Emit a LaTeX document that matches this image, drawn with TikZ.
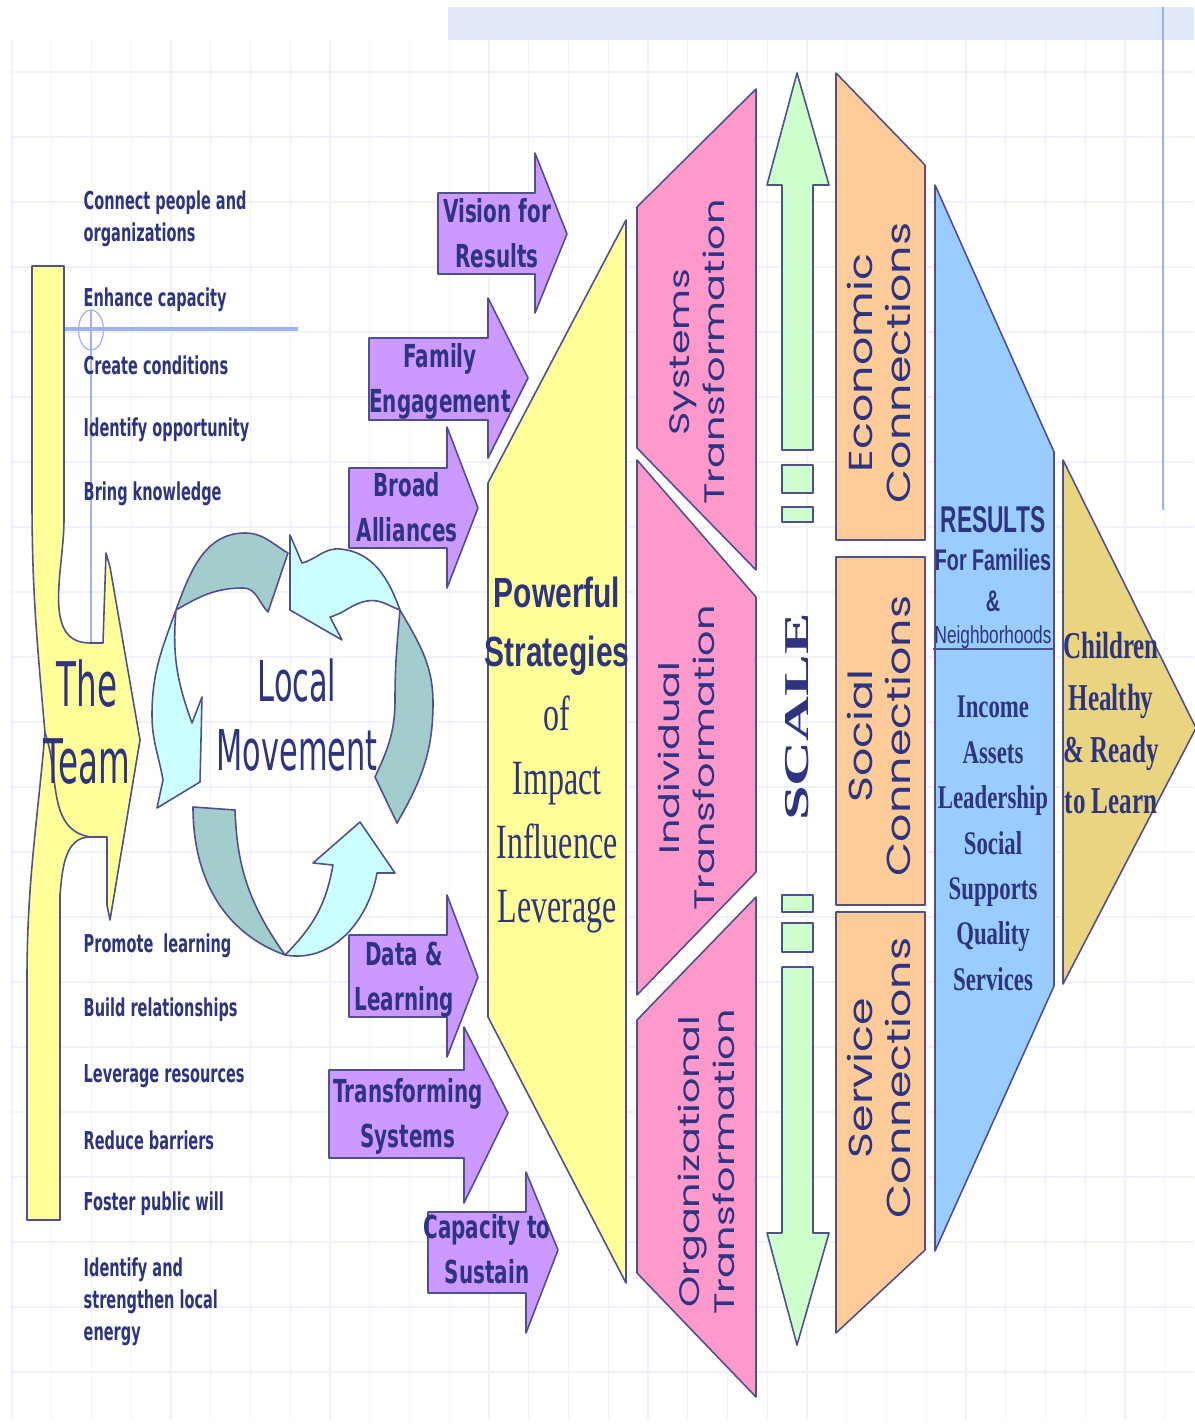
\documentclass[tikz,border=0pt]{standalone}
\usepackage{fontspec}
\usepackage{graphicx}
\setmainfont{Liberation Serif}
\newfontfamily\versans{DejaVu Sans}
\newfontfamily\geosans{Poppins}
\newfontfamily\arsans{Liberation Sans}
\newcommand{\hs}[2]{\scalebox{#1}[1]{#2}}
\newcommand{\vs}[2]{\scalebox{1}[#1]{#2}}
\newcommand{\txtstack}[2][c]{\begin{tabular}{@{}#1@{}}#2\end{tabular}}

\definecolor{inkc}{RGB}{46,52,128}
\definecolor{edgec}{RGB}{80,80,140}
\definecolor{gridc}{RGB}{239,242,253}
\definecolor{bandc}{RGB}{225,232,250}
\definecolor{penc}{RGB}{160,178,242}
\definecolor{yellowc}{RGB}{255,255,153}
\definecolor{purplec}{RGB}{204,153,255}
\definecolor{pinkc}{RGB}{255,153,204}
\definecolor{greenc}{RGB}{204,255,204}
\definecolor{orangec}{RGB}{255,204,153}
\definecolor{bluec}{RGB}{153,204,255}
\definecolor{goldc}{RGB}{233,213,128}
\definecolor{tealc}{RGB}{163,204,204}
\definecolor{cyanc}{RGB}{204,255,255}

\begin{document}
\begin{tikzpicture}[x=0.01cm, y=0.01cm,
	shp/.style={draw=edgec, line width=0.45pt, line join=round},
	gridline/.style={draw=gridc, line width=0.35pt},
	bul/.style={anchor=west, inner sep=0pt, text=inkc, font={\versans\bfseries\fontsize{7}{9.1}\selectfont}},
	arrlab/.style={inner sep=0pt, text=inkc, font={\versans\bfseries\fontsize{9}{12.8}\selectfont}},
	biglab/.style={inner sep=0pt, text=inkc, font={\versans\fontsize{16}{19.9}\selectfont}},
	vlab/.style={inner sep=0pt, text=inkc, rotate=90, font={\geosans\fontsize{11.3}{14}\selectfont}},
	clab/.style={inner sep=0pt, text=inkc, rotate=90, font={\geosans\fontsize{12.6}{14.6}\selectfont}},
	serlab/.style={inner sep=0pt, text=inkc, font={\bfseries\fontsize{9.4}{12.9}\selectfont}}]

	\useasboundingbox (0,0) rectangle (1194,-1425);
	\fill[white] (0,0) rectangle (1194,-1425);

	% faint grid
	\foreach \gx in {12,51.75,...,1194}
	\draw[gridline] (\gx,-40) -- (\gx,-1420);
	\foreach \gy in {72,137,...,1420}
	\draw[gridline] (10,-\gy) -- (1194,-\gy);

	\fill[bandc] (448,-7) rectangle (1194,-40);
	\draw[penc, line width=0.5pt] (1163,-7) -- (1163,-510);

	% pen marks at the left
	\draw[penc, line width=0.9pt] (65,-329) -- (298,-329);
	\draw[penc, line width=0.35pt] (91,-330) ellipse (12.5 and 20);
	\draw[penc, line width=0.35pt] (91,-310) -- (91,-643);

	% the team
	\filldraw[shp, fill=yellowc] (32,-266) -- (64,-266) -- (64,-520) to[out=-90,in=180] (90,-643) -- (103,-643) -- (106,-553) -- (110,-567) -- (140,-740) -- (110,-920) -- (107,-905) -- (107,-837) -- (90,-837) to[out=180,in=85] (60,-895) -- (60,-1220) -- (27,-1220) -- (27,-980) to[out=90,in=-95] (45,-733) to[out=95,in=-90] (32,-500) -- cycle;
	\draw[shp] (45,-733) to[out=-70,in=170] (90,-837);
	\node[inner sep=0pt, text=inkc, font={\versans\fontsize{17.5}{21.9}\selectfont}] (team) at (87,-730) {\hs{0.53}{\txtstack{The\\Team}}};

	% local movement cycle
	\filldraw[shp, fill=tealc] (176,-610) to[out=70,in=180] (245,-533) to[out=0,in=150] (288,-553) -- (268,-612) to[out=135,in=0] (243,-588) to[out=180,in=30] (176,-610) -- cycle;
	\filldraw[shp, fill=cyanc] (176,-610) to[out=250,in=90] (152,-715) to[out=270,in=100] (163,-780) -- (157,-808) -- (200,-782) -- (202,-697) -- (192,-723) to[out=110,in=265] (176,-610) -- cycle;
	\filldraw[shp, fill=tealc] (400,-610) to[out=-60,in=90] (433,-703) to[out=-90,in=60] (397,-823) -- (375,-777) to[out=65,in=-90] (395,-700) to[out=90,in=-95] (400,-610) -- cycle;
	\filldraw[shp, fill=cyanc] (400,-610) to[out=110,in=-5] (340,-549) to[out=175,in=15] (302,-563) -- (290,-535) -- (290,-610) -- (342,-640) -- (330,-617) to[out=15,in=190] (367,-601) to[out=10,in=160] (400,-610) -- cycle;
	\filldraw[shp, fill=tealc] (193,-807) -- (235,-810) to[out=-88,in=125] (285,-955) to[out=160,in=-90] (193,-807) -- cycle;
	\filldraw[shp, fill=cyanc] (285,-955) to[out=45,in=-100] (333,-865) -- (313,-863) -- (360,-822) -- (395,-873) -- (377,-873) to[out=-100,in=-10] (285,-955) -- cycle;
	\node[biglab] (local) at (297,-722) {\hs{0.54}{\txtstack{Local\\Movement}}};

	% what the team does
	\node[bul] (conn) at (83,-219) {\hs{0.59}{\txtstack[l]{Connect people and\\organizations}}};
	\foreach \yy/\txt [count=\i] in {300/Enhance capacity, 365/Create conditions, 430/Identify opportunity, 494/Bring knowledge, 946/Promote\ \ learning, 1010/Build relationships, 1076/Leverage resources, 1140/Reduce barriers, 1204/Foster public will}
	\node[bul] (act\i) at (83,-\yy) {\hs{0.59}{\txt}};
	\node[bul] (ident) at (83,-1302) {\hs{0.59}{\txtstack[l]{Identify and\\strengthen local\\energy}}};

	% purple arrows
	\foreach \xa/\xb/\ya/\yb/\hu/\hd/\tx/\ty in {438/535/193/274/153/313/567/234, 369/488/338/420/298/458/528/378, 349/447/468/548/427/588/478/508, 349/447/935/1017/895/1057/478/977, 329/464/1070/1158/1027/1203/508/1113, 428/526/1212/1293/1172/1333/558/1250}
	\filldraw[shp, fill=purplec] (\xa,-\ya) -- (\xb,-\ya) -- (\xb,-\hu) -- (\tx,-\ty) -- (\xb,-\hd) -- (\xb,-\yb) -- (\xa,-\yb) -- cycle;
	\node[arrlab] (vision) at (497,-236) {\hs{0.63}{\txtstack{Vision for\\Results}}};
	\node[arrlab] (family) at (440,-381) {\hs{0.63}{\txtstack{Family\\Engagement}}};
	\node[arrlab] (broad) at (407,-510) {\hs{0.63}{\txtstack{Broad\\Alliances}}};
	\node[arrlab] (data) at (404,-979) {\hs{0.63}{\txtstack{Data \&\\Learning}}};
	\node[arrlab] (transf) at (408,-1116) {\hs{0.63}{\txtstack{Transforming\\Systems}}};
	\node[arrlab] (capac) at (487,-1252) {\hs{0.63}{\txtstack{Capacity to\\Sustain}}};

	% strategies
	\filldraw[shp, fill=yellowc] (626,-220) -- (626,-1283) -- (488,-1017) -- (488,-483) -- cycle;
	\node[inner sep=0pt, text=inkc, font={\arsans\bfseries\fontsize{12}{17}\selectfont}] (power) at (557,-625) {\hs{0.71}{\txtstack{Powerful\\Strategies}}};
	\node[inner sep=0pt, text=inkc, font={\fontsize{14}{18.2}\selectfont}] (impact) at (557,-814) {\hs{0.65}{\txtstack{of\\Impact\\Influence\\Leverage}}};

	% transformations
	\filldraw[shp, fill=pinkc] (637,-207) -- (756,-89) -- (756,-570) -- (637,-448) -- cycle;
	\filldraw[shp, fill=pinkc] (637,-460) -- (756,-597) -- (756,-872) -- (637,-995) -- cycle;
	\filldraw[shp, fill=pinkc] (637,-1020) -- (756,-897) -- (756,-1397) -- (637,-1273) -- cycle;
	\node[vlab] (systr) at (700,-352) {\vs{0.71}{\txtstack{Systems\\Transformation}}};
	\node[vlab] (indtr) at (690,-758) {\vs{0.71}{\txtstack{Individual\\Transformation}}};
	\node[vlab] (orgtr) at (710,-1162) {\vs{0.71}{\txtstack{Organizational\\Transformation}}};

	% scale arrows
	\filldraw[shp, fill=greenc] (797,-73) -- (829,-185) -- (813,-185) -- (813,-450) -- (782,-450) -- (782,-185) -- (767,-185) -- cycle;
	\filldraw[shp, fill=greenc] (782,-465) rectangle (813,-493);
	\filldraw[shp, fill=greenc] (782,-507) rectangle (813,-522);
	\filldraw[shp, fill=greenc] (782,-895) rectangle (813,-912);
	\filldraw[shp, fill=greenc] (782,-923) rectangle (813,-952);
	\filldraw[shp, fill=greenc] (782,-967) -- (813,-967) -- (813,-1233) -- (829,-1233) -- (797,-1345) -- (767,-1233) -- (782,-1233) -- cycle;
	\node[inner sep=0pt, text=inkc, rotate=90, font={\bfseries\fontsize{17.7}{20}\selectfont}] (scale) at (797,-717) {\vs{0.56}{SCALE}};

	% connections
	\filldraw[shp, fill=orangec] (836,-73) -- (925,-165) -- (925,-540) -- (836,-540) -- cycle;
	\filldraw[shp, fill=orangec] (836,-557) rectangle (925,-905);
	\filldraw[shp, fill=orangec] (836,-912) -- (925,-912) -- (925,-1250) -- (836,-1333) -- cycle;
	\node[clab] (econ) at (884,-363) {\vs{0.75}{\txtstack{Economic\\Connections}}};
	\node[clab] (soc) at (884,-736) {\vs{0.75}{\txtstack{Social\\Connections}}};
	\node[clab] (serv) at (884,-1078) {\vs{0.75}{\txtstack{Service\\Connections}}};

	% results
	\filldraw[shp, fill=bluec] (935,-185) -- (1054,-452) -- (1054,-986) -- (935,-1251) -- cycle;
	\node[inner sep=0pt, text=inkc, font={\arsans\bfseries\fontsize{10.6}{12}\selectfont}] (res) at (993,-520) {\hs{0.61}{RESULTS}};
	\node[inner sep=0pt, text=inkc, font={\arsans\bfseries\fontsize{8.5}{11.4}\selectfont}] (fam) at (993,-583) {\hs{0.66}{\txtstack{For Families\\\&}}};
	\node[inner sep=0pt, text=inkc, font={\arsans\fontsize{7}{9}\selectfont}] (nbh) at (993,-637) {\hs{0.7}{Neighborhoods}};
	\draw[edgec, line width=0.5pt] (933,-649) -- (1054,-649);
	\node[serlab] (outc) at (993,-845) {\hs{0.69}{\txtstack{Income\\Assets\\Leadership\\Social\\Supports\\Quality\\Services}}};

	% children
	\filldraw[shp, fill=goldc] (1063,-460) -- (1196,-728) -- (1063,-984) -- cycle;
	\node[inner sep=0pt, text=inkc, font={\bfseries\fontsize{10.8}{14.7}\selectfont}] (child) at (1111,-726) {\hs{0.66}{\txtstack{Children\\Healthy\\\& Ready\\to Learn}}};
\end{tikzpicture}
\end{document}
